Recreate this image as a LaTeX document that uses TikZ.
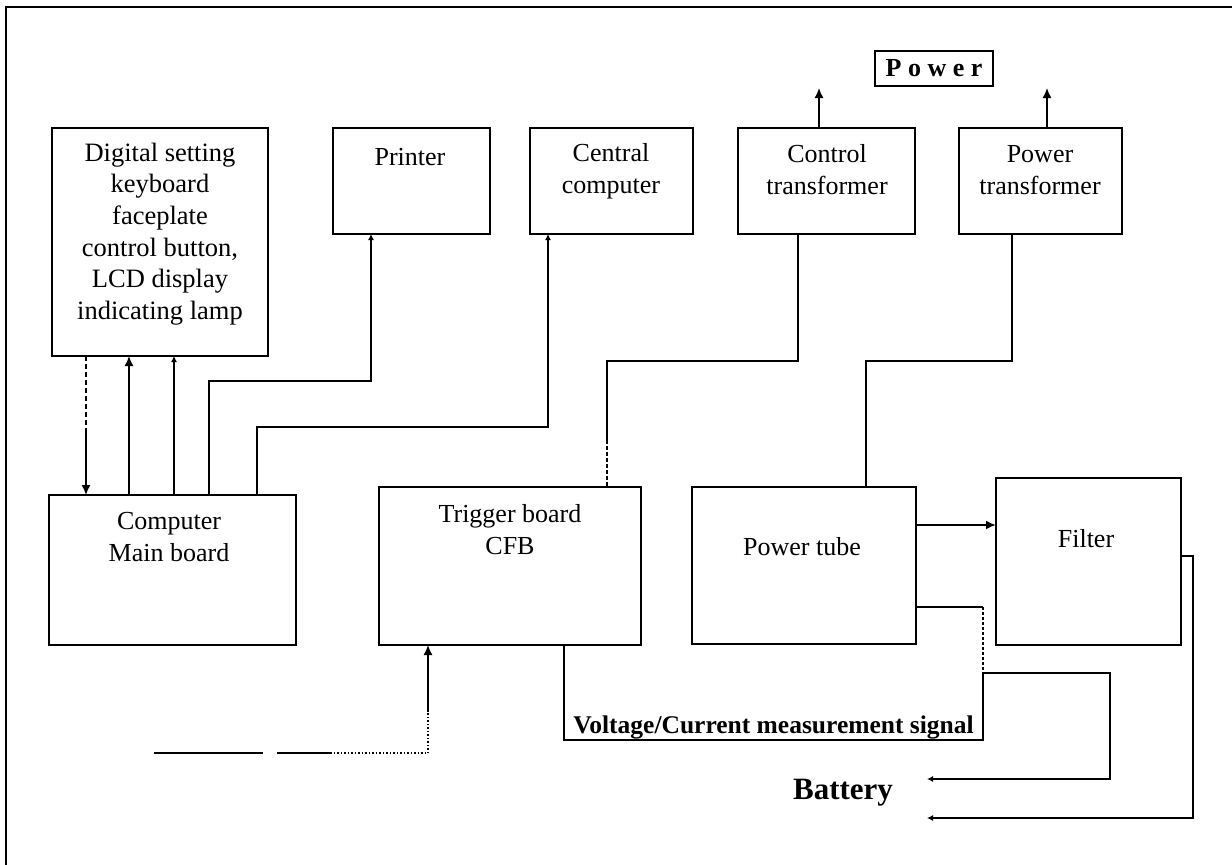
\documentclass[tikz,border=0pt]{standalone}
\usepackage{fontspec}
\setmainfont{Liberation Serif}
\usetikzlibrary{arrows.meta}
\begin{document}
\begin{tikzpicture}[x=1pt,y=-1pt,
  box/.style={draw, line width=1.6pt, inner sep=0pt, outer sep=0pt},
  txt/.style={inner sep=0pt, align=center, font=\fontsize{26}{32}\selectfont},
  btxt/.style={inner sep=0pt, font=\bfseries\fontsize{26}{30}\selectfont},
  con/.style={line width=1.5pt},
  big/.style={-{Latex[length=10pt,width=9pt]}},
  small/.style={-{Latex[length=6pt,width=6pt]}},
]
\useasboundingbox (0,0) rectangle (1232,865);
\fill[white] (0,0) rectangle (1232,865);
% frame
\draw[line width=1.6pt] (6,865) -- (6,7) -- (1232,7);

% boxes
\node[box, minimum width=216pt, minimum height=228pt] (dig) at (160,242) {};
\node[box, minimum width=157pt, minimum height=106pt] (prn) at (411.5,181) {};
\node[box, minimum width=163pt, minimum height=106pt] (cen) at (611.5,181) {};
\node[box, minimum width=177pt, minimum height=106pt] (ctl) at (826.5,181) {};
\node[box, minimum width=163pt, minimum height=106pt] (ptr) at (1040.5,181) {};
\node[box, minimum width=247pt, minimum height=150pt] (comp) at (172.5,570) {};
\node[box, minimum width=262pt, minimum height=158pt] (trig) at (510,566) {};
\node[box, minimum width=224pt, minimum height=157pt] (ptube) at (804,565.5) {};
\node[box, minimum width=185pt, minimum height=167pt] (filt) at (1088.5,561.5) {};
\node[box, line width=1.3pt, minimum width=118pt, minimum height=35pt, btxt] (pw) at (934,68.5) {P o w e r};

% texts
\node[txt, font=\fontsize{26.5}{31.6}\selectfont] (digt) at (160,234) {Digital setting\\keyboard\\faceplate\\control button,\\LCD display\\indicating lamp};
\node[txt] (prnt) at (410,157) {Printer};
\node[txt] (cent) at (611,171) {Central\\computer};
\node[txt] (ctlt) at (827,170) {Control\\transformer};
\node[txt] (ptrt) at (1040,170) {Power\\transformer};
\node[txt] (compt) at (169,537) {Computer\\Main board};
\node[txt] (trigt) at (510,530) {Trigger board\\CFB};
\node[txt] (ptt) at (802,547) {Power tube};
\node[txt] (filtt) at (1086,539) {Filter};
\node[btxt, font=\bfseries\fontsize{25.5}{30}\selectfont] (vc) at (773.5,727) {Voltage/Current measurement signal};
\node[btxt, font=\bfseries\fontsize{31}{34}\selectfont] (bat) at (843,793) {Battery};

% coordinates
\coordinate (a1) at (86,428);
\coordinate (k1) at (371,381);
\coordinate (k2) at (548,427);
\coordinate (k3) at (607,361);
\coordinate (k3b) at (607,440);
\coordinate (k4) at (866,361);
\coordinate (o1) at (819,88);
\coordinate (o2) at (1047,88);
\coordinate (j0) at (983,607);
\coordinate (j1) at (983,673);
\coordinate (j2) at (1110,779);
\coordinate (b1) at (927,779);
\coordinate (j3) at (564,740);
\coordinate (j4) at (1193,818);
\coordinate (b2) at (927,818);
\coordinate (h1) at (154,753);
\coordinate (h2) at (263,753);
\coordinate (h3) at (277,753);
\coordinate (h4) at (330,753);
\coordinate (i1) at (428,753);
\coordinate (i2) at (428,712);

% connectors: keyboard / main board
\draw[con, dash pattern=on 5pt off 3pt] ([xshift=34pt]dig.south west) -- (a1);
\draw[con, big] (a1) -- ([xshift=37pt]comp.north west);
\draw[con, big] ([xshift=80pt]comp.north west) -- ([xshift=77pt]dig.south west);
\draw[con, small] ([xshift=125pt]comp.north west) -- ([xshift=122pt]dig.south west);
\draw[con, small] ([xshift=160pt]comp.north west) |- (k1) -- ([xshift=38pt]prn.south west);
\draw[con, small] ([xshift=208pt]comp.north west) |- (k2) -- ([xshift=18pt]cen.south west);

% transformers
\draw[con] ([xshift=60pt]ctl.south west) |- (k3) -- (k3b);
\draw[con, dash pattern=on 4pt off 2pt] (k3b) -- ([xshift=228pt]trig.north west);
\draw[con] ([xshift=53pt]ptr.south west) |- (k4) -- ([xshift=174pt]ptube.north west);
\draw[con, big] ([xshift=81pt]ctl.north west) -- (o1);
\draw[con, big] ([xshift=88pt]ptr.north west) -- (o2);

% power tube -> filter
\draw[line width=2.4pt, big] ([yshift=-38pt]ptube.north east) -- ([yshift=-47pt]filt.north west);

% power tube -> battery / measurement
\draw[con] ([yshift=-120pt]ptube.north east) -- (j0);
\draw[con, dash pattern=on 3pt off 2pt] (j0) -- (j1);
\draw[con, small] (j1) -| (j2) -- (b1);
\draw[con] (j1) |- (j3) -- ([xshift=185pt]trig.south west);

% filter -> battery
\draw[con, small] ([yshift=-78pt]filt.north east) -| (j4) -- (b2);

% input to trigger board
\draw[line width=2pt] (h1) -- (h2);
\draw[line width=2pt] (h3) -- (h4);
\draw[con, dotted] (h4) -- (i1);
\draw[con, dotted] (i1) -- (i2);
\draw[con, big] (i2) -- ([xshift=49pt]trig.south west);
\end{tikzpicture}
\end{document}
